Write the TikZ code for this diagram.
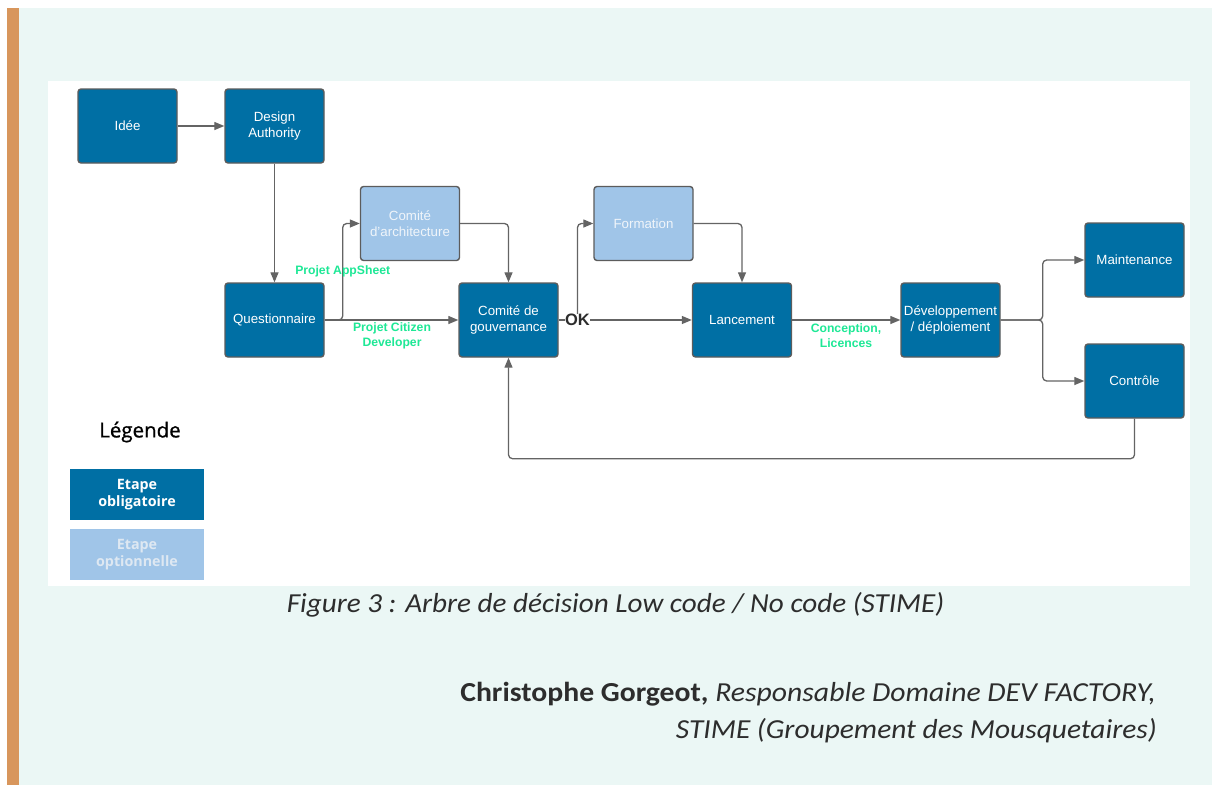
\documentclass[tikz,border=0pt]{standalone}
\usepackage{fontspec}
\setmainfont{Liberation Sans}
\newfontfamily\calfont{Carlito}
\newfontfamily\osfont{Open Sans}
\newfontfamily\ossemi[FakeBold=0.9]{Open Sans}
\usetikzlibrary{arrows.meta}
\definecolor{dkblue}{RGB}{0,111,164}
\definecolor{ltblue}{RGB}{160,197,232}
\definecolor{ltext}{RGB}{240,245,250}
\definecolor{legtext}{RGB}{222,232,242}
\definecolor{bordergray}{RGB}{92,92,92}
\definecolor{arrgray}{RGB}{100,100,100}
\definecolor{lgreen}{RGB}{30,232,150}
\definecolor{mint}{RGB}{235,247,245}
\definecolor{orangebar}{RGB}{216,150,92}
\definecolor{captext}{RGB}{45,45,45}
\begin{document}
\begin{tikzpicture}[x=1pt,y=-1pt,
  box/.style={draw=bordergray, line width=1.4pt, rounded corners=3pt, minimum width=99pt, minimum height=74pt, inner sep=1pt, align=center, font=\fontsize{13.3}{16}\selectfont, text=white},
  mand/.style={box, fill=dkblue},
  opt/.style={box, fill=ltblue, text=ltext},
  conn/.style={draw=arrgray, line width=1.3pt, rounded corners=4pt},
  arr/.style={conn, -{Triangle[length=10pt,width=8pt]}},
  lbl/.style={text=lgreen, font=\bfseries\fontsize{12.2}{15}\selectfont, align=center, inner sep=0pt},
  legbox/.style={minimum width=134pt, minimum height=51pt, inner sep=0pt, align=center, font=\osfont\bfseries\fontsize{14.3}{17}\selectfont},
  captxt/.style={font=\calfont\fontsize{27.5}{32}\selectfont, text=captext, inner sep=0pt}]
\useasboundingbox (0,0) rectangle (1212,785);
% backgrounds
\fill[white] (0,0) rectangle (1212,785);
\fill[mint] (19,8) rectangle (1212,785);
\fill[orangebar] (7,8) rectangle (19,785);
\fill[white] (48,81) rectangle (1190,586);

% nodes
\node[mand] (idee) at (127.5,126) {Idée};
\node[mand] (da) at (274.5,126) {Design\\Authority};
\node[opt] (ca) at (410,223.5) {Comité\\d'architecture};
\node[mand] (q) at (274.5,320) {Questionnaire};
\node[mand] (cg) at (508.5,320) {Comité de\\gouvernance};
\node[opt] (form) at (643.5,223.5) {Formation};
\node[mand] (lanc) at (742,320) {Lancement};
\node[mand] (dev) at (950.5,320) {Développement\\/ déploiement};
\node[mand] (maint) at (1134.5,260) {Maintenance};
\node[mand] (ctrl) at (1134.5,381) {Contrôle};

\node[text=captext, font=\bfseries\fontsize{16.5}{18}\selectfont, inner sep=0pt] (ok) at (577.5,320) {OK};

% connectors
\draw[arr] (idee) -- (da);
\draw[arr] (da) -- (q);
\draw[arr] (q) -- (cg);
\draw[arr] (q.east) -- ++(18,0) |- (ca.west);
\draw[arr] (ca.east) -| (cg.north);
\draw[conn] (cg.east) -- (ok.west);
\draw[arr] (ok.east) -- (lanc.west);
\draw[arr] (ok.north) |- (form.west);
\draw[arr] (form.east) -| (lanc.north);
\draw[arr] (lanc) -- (dev);
\draw[arr] (dev.east) -- ++(42,0) |- (maint.west);
\draw[arr] (dev.east) -- ++(42,0) |- (ctrl.west);
\draw[arr] (ctrl.south) -- ++(0,40) -| (cg.south);

% labels
\node[lbl] (lapp) at (342.7,271) {Projet AppSheet};
\node[lbl] (lcit) at (392,336) {Projet Citizen\\Developer};
\node[lbl] (lcon) at (846,336) {Conception,\\Licences};

% legend
\node[font=\ossemi\fontsize{20.5}{24}\selectfont, text=black] (legt) at (140,432) {Légende};
\node[legbox, fill=dkblue, text=white] (leg1) at (137,494.5) {Etape\\obligatoire};
\node[legbox, fill=ltblue, text=legtext] (leg2) at (137,554.5) {Etape\\optionnelle};

% caption
\node[captxt, anchor=base] (cap) at (615.5,612.5) {\scalebox{1.06}[1]{\itshape Figure 3 : Arbre de décision Low code / No code (STIME)}};
\node[captxt, anchor=base east] (auth1) at (1156,701) {\scalebox{1.08}[1]{\textbf{Christophe Gorgeot,} \textit{Responsable Domaine DEV FACTORY,}}};
\node[captxt, anchor=base east] (auth2) at (1157,738) {\scalebox{1.07}[1]{\itshape STIME (Groupement des Mousquetaires)}};
\end{tikzpicture}
\end{document}
